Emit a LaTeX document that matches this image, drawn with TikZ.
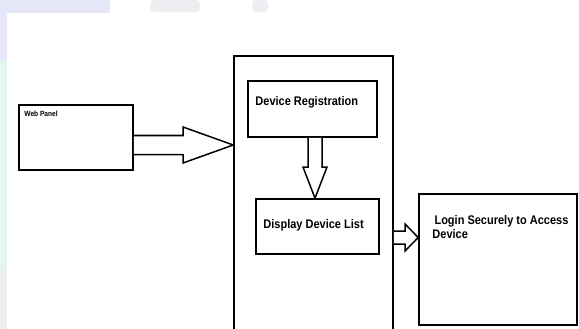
\documentclass[tikz,border=0pt]{standalone}
\usepackage{fontspec}
\setmainfont{Liberation Sans}
\newfontfamily\narrowfont[FakeStretch=0.88]{Liberation Sans}
\usetikzlibrary{positioning}

\definecolor{wmlav}{RGB}{230,232,250}
\definecolor{wmmint}{RGB}{228,246,240}
\definecolor{wmgrey}{RGB}{236,238,242}

\begin{document}
\begin{tikzpicture}[
  x=1pt, y=-1pt,
  box/.style={draw, line width=1.5pt, inner sep=0pt},
  lab/.style={font=\narrowfont\bfseries\fontsize{12.5}{14}\selectfont,
              anchor=west, inner sep=0pt, align=left},
  blk/.style={draw, line width=1.5pt, fill=white, line join=miter}]
\useasboundingbox (0,0) rectangle (579,329);
\clip (0,0) rectangle (579,329);
% faint page edge behind the sheet
\fill[wmmint] (0,0) rectangle (579,329);
\fill[wmlav] (0,0) rectangle (110,13);
\fill[wmlav] (0,0) rectangle (7,60);
\fill[wmgrey] (0,270) rectangle (7,329);
\fill[white] (7,13) rectangle (579,329);
\fill[white] (110,0) rectangle (579,13);
\fill[wmgrey, rounded corners=4pt] (150,0) rectangle (200,12);
\fill[wmgrey, rounded corners=4pt] (252,0) rectangle (268,12);

% boxes
\node[box, minimum width=114pt, minimum height=65pt] (web) at (76,137.5) {};
\node[box, minimum width=159pt, minimum height=290pt] (cont) at (313.5,201) {};
\node[box, minimum width=129pt, minimum height=56pt] (reg) at (312.5,109) {};
\node[box, minimum width=123pt, minimum height=55pt] (list) at (317.5,226.5) {};
\node[box, minimum width=158pt, minimum height=131pt] (login) at (498,259.5) {};

% texts
\node[lab, font=\narrowfont\bfseries\fontsize{7.5}{8}\selectfont,
      below right=7pt and 6pt of web.north west] (webtxt) {Web Panel};
\node[lab, below right=16pt and 8pt of reg.north west] (regtxt) {Device Registration};
\node[lab, below right=21pt and 8pt of list.north west] (listtxt) {Display Device List};
\node[lab, anchor=north west, below right=22pt and 14pt of login.north west,
      font=\narrowfont\bfseries\fontsize{12.5}{14}\selectfont] (logintxt)
  {\,Login Securely to Access\\Device};

% block arrows
\coordinate (t1) at (cont.west |- 0,145);
\draw[blk] (web.east |- 0,135.5) -- (183,135.5) -- (183,127) -- (t1)
  -- (183,163) -- (183,154.5) -- (web.east |- 0,154.5);
\coordinate (t2) at (315,0 |- list.north);
\draw[blk] (308,0 |- reg.south) -- (308,167) -- (303,167) -- (t2)
  -- (327,167) -- (322,167) -- (322,0 |- reg.south);
\coordinate (t3) at (login.west |- 0,237.5);
\draw[blk] (cont.east |- 0,231) -- (405,231) -- (405,224) -- (t3)
  -- (405,251) -- (405,244) -- (cont.east |- 0,244);
\end{tikzpicture}
\end{document}
